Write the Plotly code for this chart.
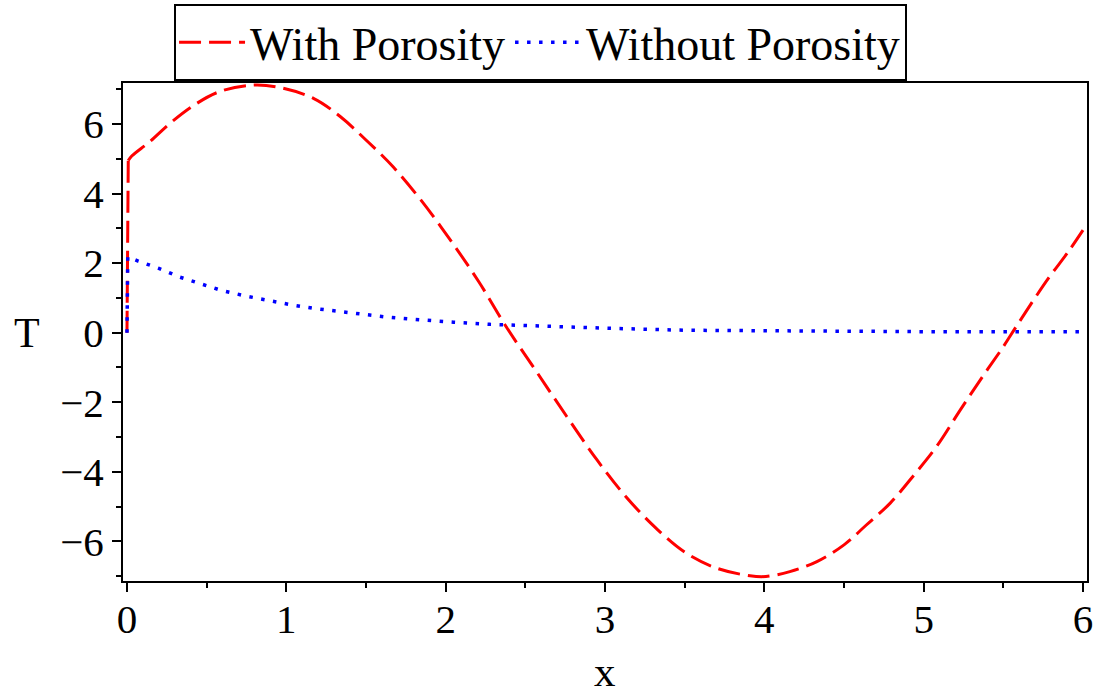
import plotly.graph_objects as go

# Temperature profile T(x) with porous medium (jump at the wall, then the wave)
x_jump = [0.0, 0.008]
t_jump = [0.0, 4.95]
x_with = [0.008, 0.03, 0.145, 0.27, 0.42, 0.58, 0.79, 0.96, 1.17, 1.34, 1.50,
          1.67, 1.84, 2.03, 2.21, 2.38, 2.57, 2.76, 2.95, 3.13, 3.32, 3.51, 3.70,
          3.91, 4.01, 4.16, 4.33, 4.50, 4.64, 4.79, 4.94, 5.08, 5.23, 5.37, 5.50,
          5.58, 5.69, 5.79, 5.90, 6.0]
t_with = [4.95, 5.08, 5.50, 6.02, 6.54, 6.93, 7.12, 7.05, 6.74, 6.21, 5.54,
          4.77, 3.84, 2.66, 1.45, 0.17, -1.12, -2.41, -3.66, -4.71, -5.62, -6.34, -6.77,
          -6.99, -7.01, -6.87, -6.58, -6.10, -5.53, -4.90, -4.09, -3.28, -2.22, -1.26, -0.40,
          0.17, 0.94, 1.61, 2.28, 2.95]

# Temperature profile T(x) without porosity
x_without = [0.0, 0.005, 0.07, 0.20, 0.33, 0.46, 0.59, 0.74, 0.88, 1.02, 1.17, 1.32,
             1.46, 1.61, 1.76, 1.90, 2.05, 2.28, 2.50, 3.00, 3.50, 3.90, 4.10, 5.00, 6.00]
t_without = [0.0, 2.18, 2.06, 1.85, 1.60, 1.40, 1.22, 1.06, 0.93, 0.81, 0.70, 0.61,
             0.53, 0.46, 0.40, 0.35, 0.30, 0.24, 0.20, 0.13, 0.07, 0.06, 0.03, 0.03, 0.03]

x_ticks = [0, 1, 2, 3, 4, 5, 6]
y_ticks = [-6, -4, -2, 0, 2, 4, 6]

serif = "Liberation Serif, Times New Roman, serif"
red_line = dict(color="#ff0000", width=3, dash="22px,8px")

fig = go.Figure()
fig.add_trace(go.Scatter(
    x=x_with, y=t_with, mode="lines", name="With Porosity", legendgroup="with",
    line=dict(shape="spline", smoothing=1.0, **red_line),
))
fig.add_trace(go.Scatter(
    x=x_jump, y=t_jump, mode="lines", name="With Porosity", legendgroup="with",
    showlegend=False, line=red_line,
))
fig.add_trace(go.Scatter(
    x=x_without, y=t_without, mode="lines", name="Without Porosity",
    line=dict(color="#0000ff", width=3.5, dash="3.5px,8.5px"),
))

axis_common = dict(
    showgrid=False, zeroline=False, automargin=False,
    showline=True, linecolor="black", linewidth=2, mirror=True,
    ticks="outside", ticklen=9, tickwidth=1.5, tickcolor="black",
    tickfont=dict(family=serif, size=41, color="black"),
)

fig.update_xaxes(
    range=[-0.025, 6.025], tickvals=x_ticks, ticklabelstandoff=-8,
    minor=dict(dtick=0.5, ticks="outside", ticklen=5, tickwidth=1.5, tickcolor="black", showgrid=False),
    **axis_common,
)
fig.update_yaxes(
    range=[-7.14, 7.18], tickvals=y_ticks,
    minor=dict(dtick=1, ticks="outside", ticklen=5, tickwidth=1.5, tickcolor="black", showgrid=False),
    **axis_common,
)

fig.add_annotation(text="x", xref="paper", yref="paper", x=0.5, y=-0.2329,
                   showarrow=False, font=dict(family=serif, size=43, color="black"),
                   xanchor="center", yanchor="bottom")
fig.add_annotation(text="T", xref="paper", yref="paper", x=-0.0996, y=0.498,
                   showarrow=False, font=dict(family=serif, size=42, color="black"),
                   xanchor="center", yanchor="middle")

fig.update_layout(
    width=1100, height=697,
    margin=dict(l=123, r=13, t=83, b=116, autoexpand=False),
    paper_bgcolor="white", plot_bgcolor="white",
    showlegend=True,
    legend=dict(
        orientation="h", xref="container", yref="container",
        x=0.4914, xanchor="center", y=0.9943, yanchor="top",
        bordercolor="black", borderwidth=2, bgcolor="white",
        font=dict(family=serif, size=46, color="black"),
        itemwidth=66, tracegroupgap=0,
    ),
)

fig.write_html("out.html")
